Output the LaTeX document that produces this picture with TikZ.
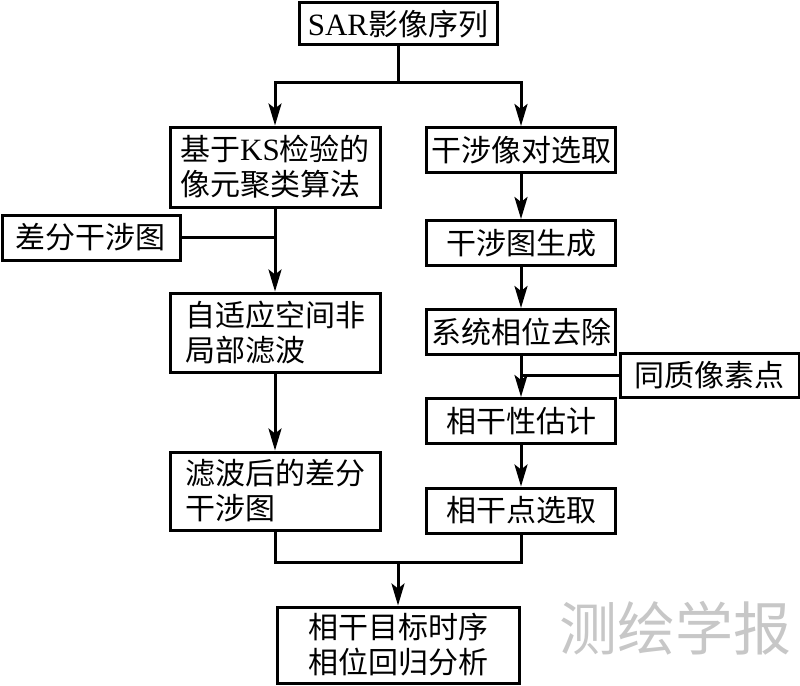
\documentclass[tikz,border=0pt]{standalone}
\usepackage{fontspec}
\setmainfont{Liberation Serif}
\newfontfamily\cjk{Noto Sans CJK SC}
\newfontfamily\lat{Liberation Serif}
\usetikzlibrary{arrows.meta}
\begin{document}
\begin{tikzpicture}[x=1pt,y=-1pt,
  box/.style={draw,line width=3pt,inner sep=0pt,font=\cjk\fontsize{30}{35}\selectfont,align=left},
  conn/.style={line width=3pt},
  arr/.style={conn,-{Stealth[length=22pt,width=13pt,inset=5pt]}},
  wmark/.style={text=black!22,font=\cjk\fontsize{58}{60}\selectfont,inner sep=0pt}]
\useasboundingbox (0,0) rectangle (800,685);
% nodes
\node[box,minimum width=198pt,minimum height=42pt] (sar) at (398,24) {\lat\fontsize{31}{35}\selectfont SAR\cjk\fontsize{30}{35}\selectfont 影像序列};
\node[box,minimum width=210pt,minimum height=80pt] (ks) at (275,167) {基于{\lat\fontsize{31}{35}\selectfont KS}检验的\\像元聚类算法};
\node[box,minimum width=189pt,minimum height=45pt] (pair) at (521,150) {干涉像对选取};
\node[box,minimum width=178pt,minimum height=45pt] (diff) at (91,237.5) {差分干涉图};
\node[box,minimum width=210pt,minimum height=79pt] (ada) at (275,332.5) {自适应空间非\\局部滤波};
\node[box,minimum width=189pt,minimum height=45pt] (gen) at (521,243) {干涉图生成};
\node[box,minimum width=189pt,minimum height=45pt] (sys) at (521,332) {系统相位去除};
\node[box,minimum width=179pt,minimum height=44pt] (hom) at (709.5,375) {同质像素点};
\node[box,minimum width=189pt,minimum height=45pt] (coh) at (521,421) {相干性估计};
\node[box,minimum width=210pt,minimum height=78pt] (filt) at (275,491) {滤波后的差分\\干涉图};
\node[box,minimum width=189pt,minimum height=45pt] (sel) at (521,510.5) {相干点选取};
\node[box,minimum width=242pt,minimum height=76pt] (fin) at (398,645) {相干目标时序\\相位回归分析};
\node[wmark] (wm) at (675,628) {测绘学报};
% junction coordinates
\coordinate (jt) at (398,82);
\coordinate (jb) at (398,562);
% connectors
\draw[conn] (sar.south) -- (jt);
\draw[arr] (jt) -| (ks.north);
\draw[arr] (jt) -| (pair.north);
\draw[arr] (ks.south) -- (ada.north);
\draw[conn] (diff.east) -- (ks.south |- diff.east);
\draw[arr] (ada.south) -- (filt.north);
\draw[arr] (pair.south) -- (gen.north);
\draw[arr] (gen.south) -- (sys.north);
\draw[arr] (sys.south) -- (coh.north);
\draw[conn] (hom.west) -- (sys.south |- hom.west);
\draw[arr] (coh.south) -- (sel.north);
\draw[conn] (filt.south) -- (filt.south |- jb) -- (sel.south |- jb) -- (sel.south);
\draw[arr] (jb) -- (fin.north);
\end{tikzpicture}
\end{document}
